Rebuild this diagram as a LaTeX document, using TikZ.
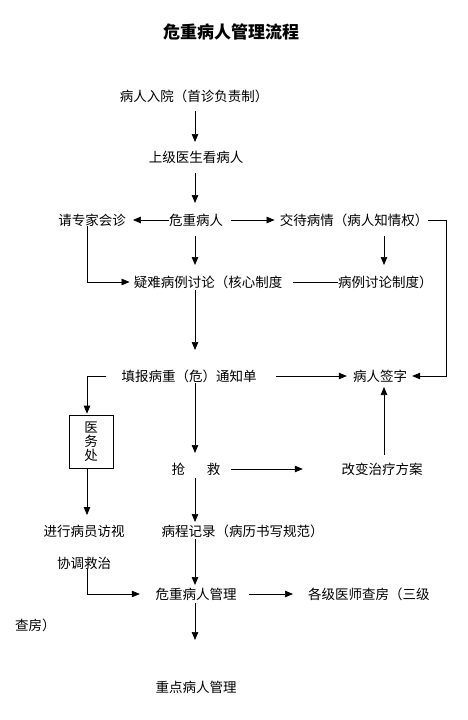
\documentclass[tikz,border=0pt]{standalone}
\usepackage{fontspec}
\newfontfamily\cjk{Noto Sans CJK SC}
\usetikzlibrary{arrows.meta}
\begin{document}
\begin{tikzpicture}[x=1pt,y=-1pt,
  txt/.style={inner sep=0pt, font=\cjk\fontsize{13.5}{14}\selectfont},
  arr/.style={-{Triangle[length=8pt,width=6.5pt]}, line width=0.7pt},
  ln/.style={line width=0.7pt}]
\fill[white] (0,0) rectangle (468,720);
\path[use as bounding box] (0,0) rectangle (468,720);
\coordinate (c) at (195,0);
\coordinate (d) at (384,0);
% nodes
\node[txt, font=\cjk\bfseries\fontsize{17}{20}\selectfont] (title) at (231,32) {危重病人管理流程};
\node[txt] (n1) at (194,96) {病人入院（首诊负责制）};
\node[txt] (n2) at (196,157) {上级医生看病人};
\node[txt] (n3) at (196,220) {危重病人};
\node[txt] (zj) at (92,220) {请专家会诊};
\node[txt] (jd) at (354,220) {交待病情（病人知情权）};
\node[txt] (yn) at (208,282) {疑难病例讨论（核心制度};
\node[txt, anchor=west] (bl) at (338,282) {病例讨论制度）};
\node[txt] (tb) at (189,376) {填报病重（危）通知单};
\node[txt] (qz) at (380,376) {病人签字};
\node[txt, draw, line width=0.7pt, minimum width=44pt, minimum height=53pt, align=center] (yw) at (91,441.5) {医\\务\\处};
\node[txt] (qj) at (196,469) {抢\hspace{22pt}救};
\node[txt] (gb) at (382,469) {改变治疗方案};
\node[txt] (jx) at (84,531) {进行病员访视};
\node[txt] (bc) at (242.5,531) {病程记录（病历书写规范）};
\node[txt] (xt) at (84,563) {协调救治};
\node[txt] (wg) at (196,594) {危重病人管理};
\node[txt, anchor=west] (gj) at (308,594) {各级医师查房（三级};
\node[txt, anchor=west] (cf) at (15,625) {查房）};
\node[txt] (zd) at (196,687) {重点病人管理};
% vertical main column
\draw[arr, shorten <=15pt, shorten >=15pt] (n1 -| c) -- (n2 -| c);
\draw[arr, shorten <=16pt, shorten >=17pt] (n2 -| c) -- (n3 -| c);
\draw[arr, shorten <=16pt, shorten >=17pt] (n3 -| c) -- (yn -| c);
\draw[arr, shorten <=16pt, shorten >=17pt] (jd -| d) -- (bl -| d);
\draw[arr, shorten <=8pt, shorten >=26pt] (yn -| c) -- (tb -| c);
\draw[arr, shorten <=7pt, shorten >=16pt] (tb -| c) -- (qj -| c);
\draw[arr, shorten <=14pt, shorten >=11pt] (gb -| d) -- (qz -| d);
\draw[arr, shorten <=9pt, shorten >=9pt] (qj -| c) -- (bc -| c);
\draw[arr, shorten <=8pt, shorten >=9pt] (bc -| c) -- (wg -| c);
\draw[arr, shorten <=9pt, shorten >=47pt] (wg -| c) -- (zd -| c);
% horizontals
\draw[arr, shorten >=7pt] (n3.west) -- (zj.east);
\draw[arr, shorten <=8pt, shorten >=5pt] (n3.east) -- (jd.west);
\draw[arr, shorten >=5pt] (jd.east) -- ++(18,0) |- (qz.east);
\draw[arr, shorten >=4pt] ([xshift=-5pt]zj.south) |- (yn.west);
\draw[ln, shorten <=11pt] (yn.east) -- (bl.west);
\draw[arr, shorten >=1pt] ([xshift=-15pt]tb.west) -| ([xshift=-4pt]yw.north);
\draw[arr, shorten <=19.5pt, shorten >=6pt] (tb.east) -- (qz.west);
\draw[arr, shorten <=10.5pt, shorten >=38.5pt] (qj.east) -- (gb.west);
\draw[arr, shorten >=9.5pt] ([xshift=-4pt]yw.south) -- ([xshift=-4pt]yw.south |- jx.north);
\draw[arr, shorten >=15.5pt] ([xshift=3pt]xt.south) |- (wg.west);
\draw[arr, shorten <=12.5pt, shorten >=15pt] (wg.east) -- (gj.west);
\end{tikzpicture}
\end{document}
